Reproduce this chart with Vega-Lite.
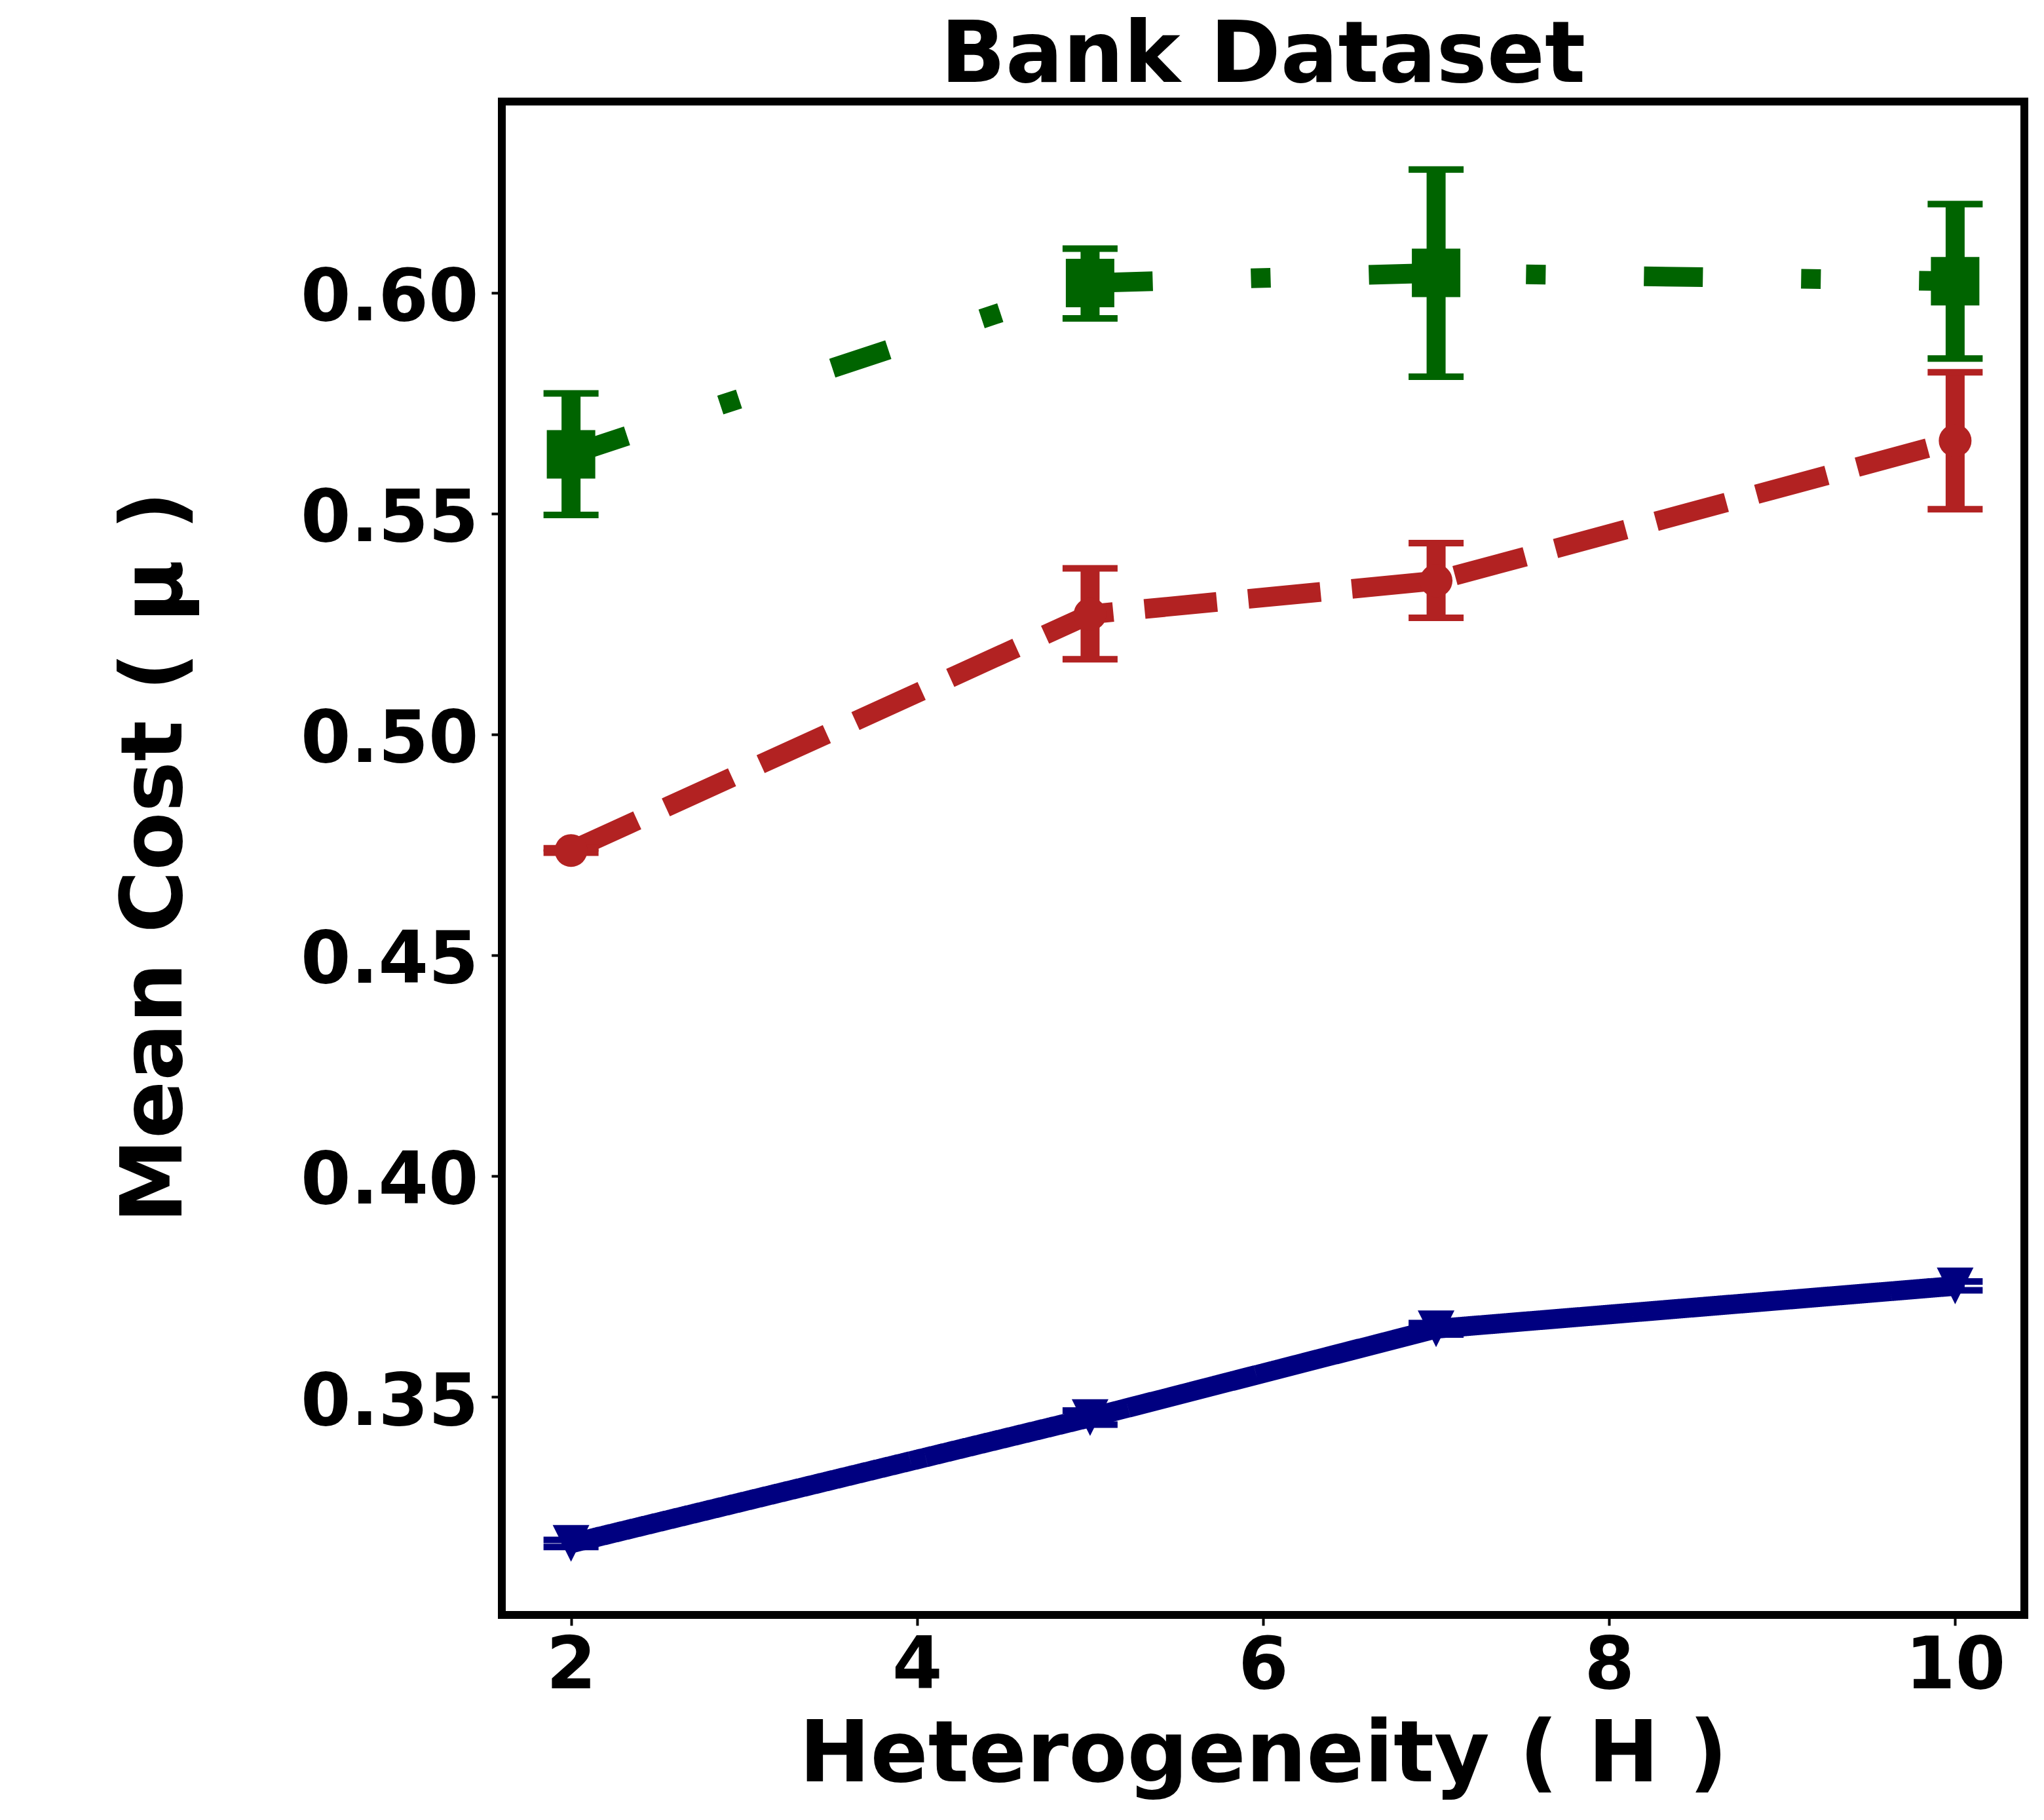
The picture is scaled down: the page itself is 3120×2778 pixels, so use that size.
{
  "$schema": "https://vega.github.io/schema/vega-lite/v6.json",
  "autosize": {"type": "none"},
  "padding": {"left": 766, "top": 155, "right": 30, "bottom": 313},
  "width": 2324,
  "height": 2310,
  "background": "white",
  "title": {
    "text": "Bank Dataset",
    "font": "DejaVu Sans",
    "fontSize": 130,
    "fontWeight": "bold",
    "color": "black",
    "anchor": "middle",
    "baseline": "alphabetic",
    "offset": -100
  },
  "data": {
    "values": [
      {"method": "Method 1", "h": 2, "mean": 0.3168, "lo": 0.3160, "hi": 0.3176},
      {"method": "Method 1", "h": 5, "mean": 0.3453, "lo": 0.3437, "hi": 0.3469},
      {"method": "Method 1", "h": 7, "mean": 0.3654, "lo": 0.3641, "hi": 0.3667},
      {"method": "Method 1", "h": 10, "mean": 0.3751, "lo": 0.3741, "hi": 0.3761},
      {"method": "Method 2", "h": 2, "mean": 0.4737, "lo": 0.4732, "hi": 0.4742},
      {"method": "Method 2", "h": 5, "mean": 0.5272, "lo": 0.5170, "hi": 0.5376},
      {"method": "Method 2", "h": 7, "mean": 0.5348, "lo": 0.5264, "hi": 0.5433},
      {"method": "Method 2", "h": 10, "mean": 0.5665, "lo": 0.5510, "hi": 0.5820},
      {"method": "Method 3", "h": 2, "mean": 0.5634, "lo": 0.5497, "hi": 0.5772},
      {"method": "Method 3", "h": 5, "mean": 0.6022, "lo": 0.5942, "hi": 0.6100},
      {"method": "Method 3", "h": 7, "mean": 0.6045, "lo": 0.5810, "hi": 0.6279},
      {"method": "Method 3", "h": 10, "mean": 0.6026, "lo": 0.5851, "hi": 0.6201}
    ]
  },
  "encoding": {
    "x": {
      "field": "h", "type": "quantitative",
      "scale": {"domain": [1.6, 10.4], "nice": false, "zero": false},
      "axis": {"values": [2, 4, 6, 8, 10], "title": "Heterogeneity ( H )", "titleX": 1162, "titleY": 253}
    },
    "color": {
      "field": "method", "type": "nominal",
      "scale": {"domain": ["Method 1", "Method 2", "Method 3"], "range": ["#000080", "#B22222", "#006400"]},
      "legend": null
    }
  },
  "layer": [
    {
      "mark": {"type": "line", "strokeWidth": 30, "strokeJoin": "round", "strokeCap": "butt"},
      "encoding": {
        "y": {
          "field": "mean", "type": "quantitative",
          "scale": {"domain": [0.3006, 0.6433], "nice": false, "zero": false},
          "axis": {"values": [0.35, 0.40, 0.45, 0.50, 0.55, 0.60], "format": ".2f", "title": "Mean Cost ( μ )", "titleX": -490, "titleY": 1153}
        },
        "strokeDash": {
          "field": "method", "type": "nominal",
          "scale": {"domain": ["Method 1", "Method 2", "Method 3"], "range": [[1, 0], [111, 48], [90, 150, 30, 150]]},
          "legend": null
        }
      }
    },
    {
      "mark": {"type": "rule", "strokeWidth": 29},
      "encoding": {
        "y": {"field": "lo", "type": "quantitative"},
        "y2": {"field": "hi"}
      }
    },
    {
      "mark": {"type": "tick", "orient": "horizontal", "size": 84, "thickness": 10, "opacity": 1},
      "encoding": {"y": {"field": "lo", "type": "quantitative"}}
    },
    {
      "mark": {"type": "tick", "orient": "horizontal", "size": 84, "thickness": 10, "opacity": 1},
      "encoding": {"y": {"field": "hi", "type": "quantitative"}}
    },
    {
      "transform": [{"filter": "datum.method === 'Method 1'"}],
      "mark": {"type": "point", "filled": true, "opacity": 1, "shape": "M-1,-1L1,-1L0,1Z", "size": 3136},
      "encoding": {"y": {"field": "mean", "type": "quantitative"}}
    },
    {
      "transform": [{"filter": "datum.method === 'Method 2'"}],
      "mark": {"type": "point", "filled": true, "opacity": 1, "shape": "circle", "size": 2500},
      "encoding": {"y": {"field": "mean", "type": "quantitative"}}
    },
    {
      "transform": [{"filter": "datum.method === 'Method 3'"}],
      "mark": {"type": "point", "filled": true, "opacity": 1, "shape": "square", "size": 5476},
      "encoding": {"y": {"field": "mean", "type": "quantitative"}}
    }
  ],
  "config": {
    "view": {"stroke": "black", "strokeWidth": 12},
    "legend": {"disable": true},
    "axis": {
      "domain": false,
      "grid": false,
      "ticks": true,
      "tickColor": "black",
      "tickWidth": 4,
      "tickSize": 16,
      "labelFont": "DejaVu Sans",
      "labelFontSize": 110,
      "labelFontWeight": "bold",
      "labelColor": "black",
      "labelFlush": false,
      "labelOverlap": false,
      "labelLimit": 0,
      "titleFont": "DejaVu Sans",
      "titleFontSize": 130,
      "titleFontWeight": "bold",
      "titleColor": "black",
      "titleBaseline": "alphabetic",
      "titleAlign": "center",
      "titleLimit": 0
    },
    "axisX": {"labelBaseline": "top", "labelPadding": 8, "titleAngle": 0},
    "axisY": {"labelBaseline": "alphabetic", "labelOffset": 42, "labelPadding": 20, "titleAngle": -90}
  }
}
